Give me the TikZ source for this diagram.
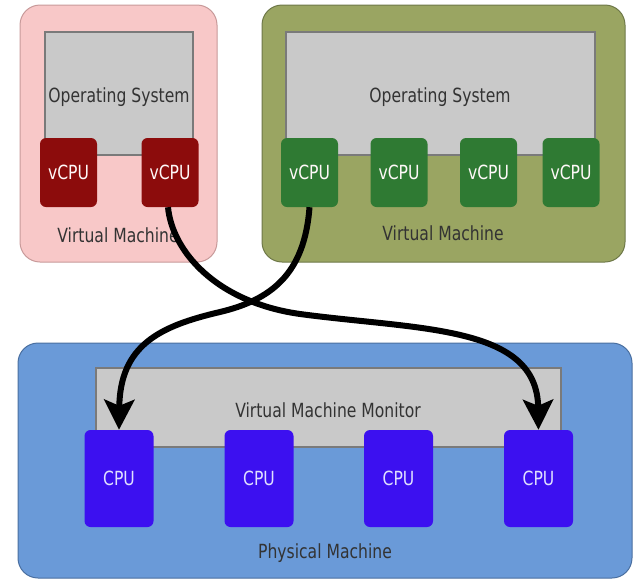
\documentclass[tikz,border=0pt]{standalone}
\usepackage{fontspec}
\setmainfont{DejaVu Sans}[FakeStretch=0.8]
\usetikzlibrary{arrows.meta}
\definecolor{pinkvm}{HTML}{F8C8C8}
\definecolor{pinkbd}{HTML}{C89A9A}
\definecolor{olivevm}{HTML}{9AA562}
\definecolor{olivebd}{HTML}{6E7848}
\definecolor{osgray}{HTML}{C9C9C9}
\definecolor{osbd}{HTML}{7A7A7A}
\definecolor{vred}{HTML}{8C0C0C}
\definecolor{vgreen}{HTML}{2F7A33}
\definecolor{physblue}{HTML}{6A9AD8}
\definecolor{physbd}{HTML}{4A6FA0}
\definecolor{cpublue}{HTML}{3C10F0}
\definecolor{labelgray}{HTML}{333333}
\tikzset{
  vmbox/.style={rounded corners=20pt, line width=1pt},
  osbox/.style={fill=osgray, draw=osbd, line width=1.2pt},
  vcpu/.style={rounded corners=6pt, minimum width=57pt, minimum height=69pt, inner sep=0pt,
    text=white!90!pink, font=\fontsize{19.5}{22}\selectfont},
  cpubox/.style={rounded corners=6pt, minimum width=69pt, minimum height=97pt, inner sep=0pt,
    fill=cpublue, text=white!88!blue, font=\fontsize{19.5}{22}\selectfont},
  lbl/.style={text=labelgray, font=\fontsize{19.5}{22}\selectfont, inner sep=0pt},
  link/.style={line width=6pt, -{Stealth[length=30pt,width=30pt,inset=6pt]}}
}
\begin{document}
\begin{tikzpicture}[x=1pt,y=-1pt]
\useasboundingbox (0,0) rectangle (635,582);
% virtual machines
\draw[vmbox, fill=pinkvm, draw=pinkbd] (20,5) rectangle (217,262);
\draw[vmbox, fill=olivevm, draw=olivebd] (262,5) rectangle (625,262);
\draw[vmbox, fill=physblue, draw=physbd] (18,343) rectangle (632,578);
% OS / VMM
\node[osbox, minimum width=148pt, minimum height=123pt, inner sep=0pt] (os1) at (119,93.5) {};
\node[osbox, minimum width=309pt, minimum height=123pt, inner sep=0pt] (os2) at (440.5,93.5) {};
\node[osbox, minimum width=465pt, minimum height=79pt, inner sep=0pt] (vmm) at (328.5,407.5) {};
\node[lbl] (os1t) at (119,97) {Operating System};
\node[lbl] (os2t) at (440,97) {Operating System};
\node[lbl] (vmmt) at (328,410) {Virtual Machine Monitor};
% vCPUs
\node[vcpu, fill=vred] (l1) at (68.5,172.5) {vCPU};
\node[vcpu, fill=vred] (l2) at (170,172.5) {vCPU};
\node[vcpu, fill=vgreen] (r1) at (309.5,172.5) {vCPU};
\node[vcpu, fill=vgreen] (r2) at (399,172.5) {vCPU};
\node[vcpu, fill=vgreen] (r3) at (488.5,172.5) {vCPU};
\node[vcpu, fill=vgreen] (r4) at (571,172.5) {vCPU};
% CPUs
\node[cpubox] (c1) at (119,478.5) {CPU};
\node[cpubox] (c2) at (259,478.5) {CPU};
\node[cpubox] (c3) at (398.5,478.5) {CPU};
\node[cpubox] (c4) at (538.5,478.5) {CPU};
% labels
\node[lbl] (vm1) at (118,235) {Virtual Machine};
\node[lbl] (vm2) at (443,233) {Virtual Machine};
\node[lbl] (pm) at (325,553) {Physical Machine};
% links
\draw[link] ([xshift=-2pt]l2.south) .. controls +(4,43) and (215,302) .. (300,314)
  .. controls (420,330) and (537,325) .. (c4.north);
\draw[link] (r1.south) .. controls +(-5,68) and (270,300) .. (220,312)
  .. controls (160,326) and (120,345) .. (c1.north);
\end{tikzpicture}
\end{document}
